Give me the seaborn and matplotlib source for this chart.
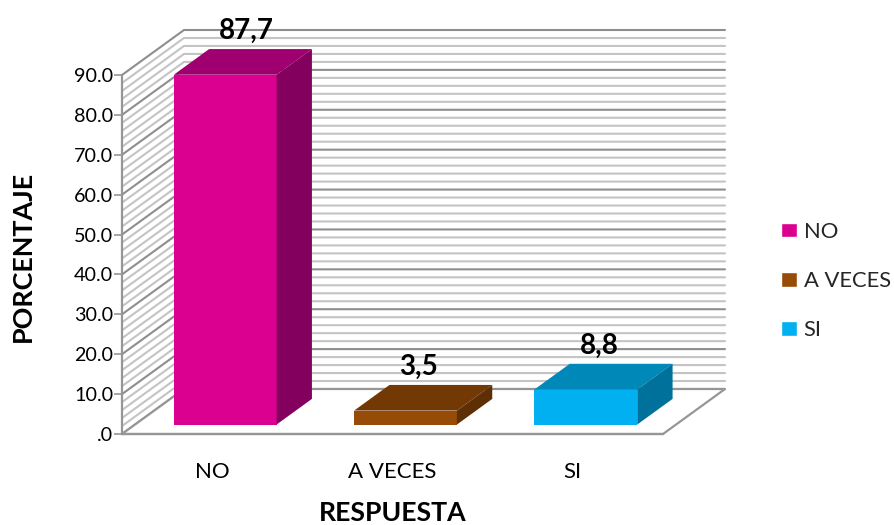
import matplotlib
matplotlib.use("Agg")
import matplotlib.pyplot as plt
import numpy as np
import pandas as pd
import seaborn as sns
from matplotlib.patches import Polygon, Rectangle

# Data
categories = ["NO", "A VECES", "SI"]
porcentaje = [87.7, 3.5, 8.8]
value_labels = ["87,7", "3,5", "8,8"]
y_ticks = [0, 10, 20, 30, 40, 50, 60, 70, 80, 90]

front_colors = ["#DC0090", "#964B06", "#00B0F0"]
top_colors = ["#A0006F", "#733905", "#0088B8"]
side_colors = ["#84005E", "#5E2F04", "#00719B"]

sns.set_theme(style="white")
plt.rcParams["font.family"] = ["Lato", "DejaVu Sans"]

W, H = 895, 525
fig = plt.figure(figsize=(W / 100, H / 100), dpi=100)
# axes box is the front plane of the fake 3D chart
ax = fig.add_axes([122 / W, (H - 434) / H, 541 / W, 359 / H])
ax.patch.set_alpha(0)

df = pd.DataFrame({"RESPUESTA": categories, "PORCENTAJE": porcentaje})
sns.barplot(data=df, x="RESPUESTA", y="PORCENTAJE", hue="RESPUESTA",
            palette=front_colors, width=0.57, dodge=False, saturation=1,
            legend=True, ax=ax, zorder=5)
ax.set_xlim(-0.5, 2.5)
ax.set_ylim(0, 90)

# one depth unit moves a point this much in data units
x_per_depth = 62 / (541 / 3)
y_per_depth = 45 / (359 / 90)


def project(x, v, d):
    return x + d * x_per_depth, v + d * y_per_depth


GRID_LIGHT = "#C4C4C4"
GRID_DARK = "#8E8E8E"
x0, x1 = ax.get_xlim()

# walls, minor gridlines first so the major ones sit on top
for v in np.arange(0, 91, 2):
    major = v % 10 == 0
    color = GRID_DARK if major else GRID_LIGHT
    z = 2 if major else 1
    a = project(x0, v, 0)
    b = project(x0, v, 1)
    c = project(x1, v, 1)
    ax.plot([a[0], b[0], c[0]], [a[1], b[1], c[1]], color=color, lw=1.5,
            clip_on=False, zorder=z, solid_joinstyle="miter")

# floor outline
floor = [project(x0, 0, 0), project(x0, 0, 1), project(x1, 0, 1), project(x1, 0, 0)]
ax.add_patch(Polygon(floor, closed=True, facecolor="white", edgecolor="#969696",
                     lw=1.6, clip_on=False, zorder=3))

# extrude the seaborn bars into boxes
bar_front = 0.21
bar_back = 0.78
bars = [p for p in ax.patches if isinstance(p, Rectangle) and p.get_height() > 0]
for i, bar in enumerate(bars):
    left, width, height = bar.get_x(), bar.get_width(), bar.get_height()
    fx, fy = project(left, 0, bar_front)
    bar.set_x(fx)
    bar.set_y(fy)
    bar.set_clip_on(False)
    bar.set_linewidth(0)
    right = left + width
    top = [project(left, height, bar_front), project(right, height, bar_front),
           project(right, height, bar_back), project(left, height, bar_back)]
    side = [project(right, 0, bar_front), project(right, 0, bar_back),
            project(right, height, bar_back), project(right, height, bar_front)]
    ax.add_patch(Polygon(top, closed=True, facecolor=top_colors[i], lw=0, clip_on=False, zorder=5))
    ax.add_patch(Polygon(side, closed=True, facecolor=side_colors[i], lw=0, clip_on=False, zorder=5))
    # labels start a little right of the back left corner of the box
    lx, ly = project(left, height, bar_back)
    ax.annotate(value_labels[i], (lx, ly), xytext=(7, 13), textcoords="offset points",
                ha="left", va="center", fontsize=20, fontweight="bold",
                color="black", annotation_clip=False, zorder=6)

# axes
for name in ["top", "right"]:
    ax.spines[name].set_visible(False)
for name in ["left", "bottom"]:
    ax.spines[name].set_color("#969696")
    ax.spines[name].set_linewidth(1.6)
    ax.spines[name].set_zorder(4)
ax.set_yticks(y_ticks)
ax.set_yticklabels([f"{v:.1f}" if v else ".0" for v in y_ticks])
ax.tick_params(axis="y", length=5.5, width=1.2, color="#969696", pad=1,
               labelsize=14.2, labelcolor="black", left=True)
ax.tick_params(axis="x", length=0, pad=20.3, labelsize=16, labelcolor="black")

ax.set_xlabel("RESPUESTA", fontsize=19.2, fontweight="bold", color="black", va="center")
ax.set_ylabel("PORCENTAJE", fontsize=19.4, fontweight="bold", color="black", va="center")
ax.xaxis.set_label_coords((393 - 122) / 541, (434 - 513) / 359)
ax.yaxis.set_label_coords((23 - 122) / 541, (434 - 256) / 359)

sns.move_legend(ax, "center left", bbox_to_anchor=(781 / W, (H - 281) / H),
                bbox_transform=fig.transFigure, frameon=False, title=None,
                fontsize=15.8, labelspacing=1.33, handlelength=0.73, handleheight=0.64,
                handletextpad=0.3, borderpad=0, borderaxespad=0)

fig.savefig("out.png", dpi=100)
